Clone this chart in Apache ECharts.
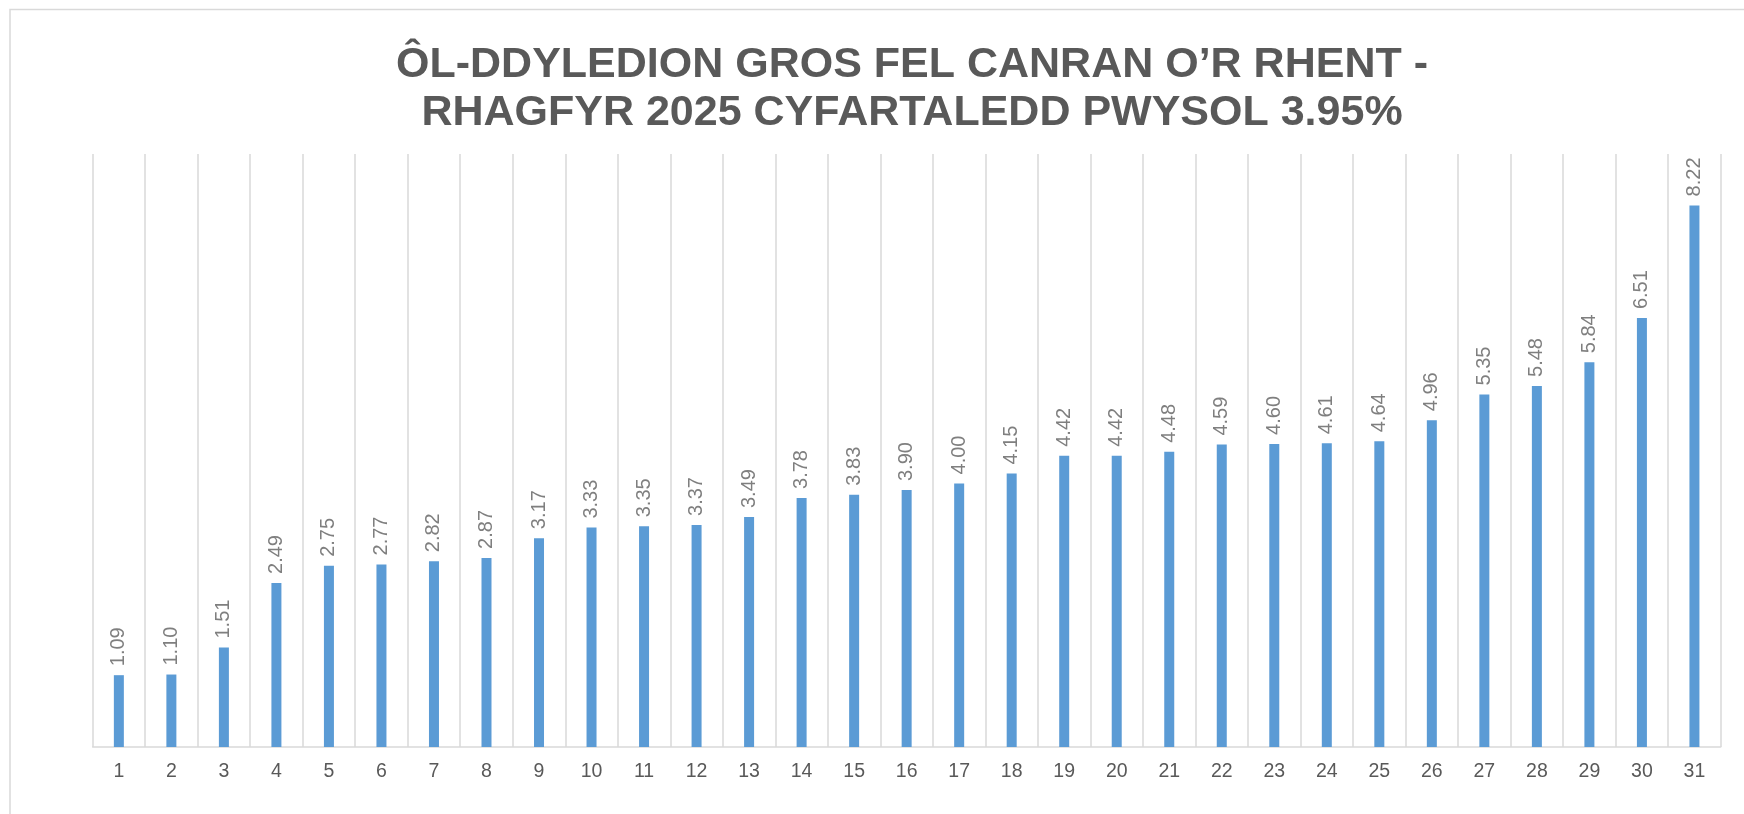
<!DOCTYPE html>
<html>
<head>
<meta charset="utf-8">
<script src="https://cdn.jsdelivr.net/npm/echarts@6/dist/echarts.min.js"></script>
<style>
  html, body { margin: 0; padding: 0; background: #fff; }
  #main { width: 1744px; height: 814px; }
</style>
</head>
<body>
<div id="main"></div>
<script>
var titleLines = ['ÔL-DDYLEDION GROS FEL CANRAN O’R RHENT -', 'RHAGFYR 2025 CYFARTALEDD PWYSOL 3.95%'];
var categories = ['1','2','3','4','5','6','7','8','9','10','11','12','13','14','15','16','17','18','19','20','21','22','23','24','25','26','27','28','29','30','31'];
var values = [1.09,1.10,1.51,2.49,2.75,2.77,2.82,2.87,3.17,3.33,3.35,3.37,3.49,3.78,3.83,3.90,4.00,4.15,4.42,4.42,4.48,4.59,4.60,4.61,4.64,4.96,5.35,5.48,5.84,6.51,8.22];

var chart;

function getChart(){
    if(chart != undefined){
        return chart;
    }
    chart = echarts.init(document.getElementById('main'));
    return chart;
}

var option = {
    backgroundColor: '#fff',
    animation: false,
    title: {
        text: titleLines.join('\n'),
        left: 907,
        top: 36,
        textAlign: 'center',
        textStyle: {
            fontFamily: 'Liberation Sans',
            fontWeight: 'bold',
            fontSize: 43,
            lineHeight: 48,
            color: '#595959'
        }
    },
    graphic: [{
        type: 'rect',
        shape: { x: 10, y: 9.5, width: 2000, height: 2000 },
        style: { fill: 'none', stroke: '#d9d9d9', lineWidth: 1.5 },
        silent: true
    }],
    grid: { left: 92.6, right: 23.3, top: 154, bottom: 67 },
    xAxis: {
        type: 'category',
        data: categories,
        axisLine: { lineStyle: { color: '#d9d9d9', width: 1.5 } },
        axisTick: { show: false },
        splitLine: { show: true, lineStyle: { color: '#d9d9d9', width: 1.5 } },
        axisLabel: {
            color: '#595959',
            fontFamily: 'Liberation Sans',
            fontSize: 19.5,
            margin: 15
        }
    },
    yAxis: {
        type: 'value',
        min: 0,
        max: 9,
        show: false,
        splitLine: { show: false }
    },
    series: [{
        type: 'bar',
        data: values,
        barWidth: 10,
        itemStyle: { color: '#5b9bd5' },
        label: {
            show: true,
            position: 'top',
            rotate: 90,
            align: 'left',
            verticalAlign: 'middle',
            distance: 9,
            formatter: function(p){ return p.value.toFixed(2); },
            color: '#7f7f7f',
            fontFamily: 'Liberation Sans',
            fontSize: 20
        }
    }]
};

getChart().setOption(option);
</script>
</body>
</html>
